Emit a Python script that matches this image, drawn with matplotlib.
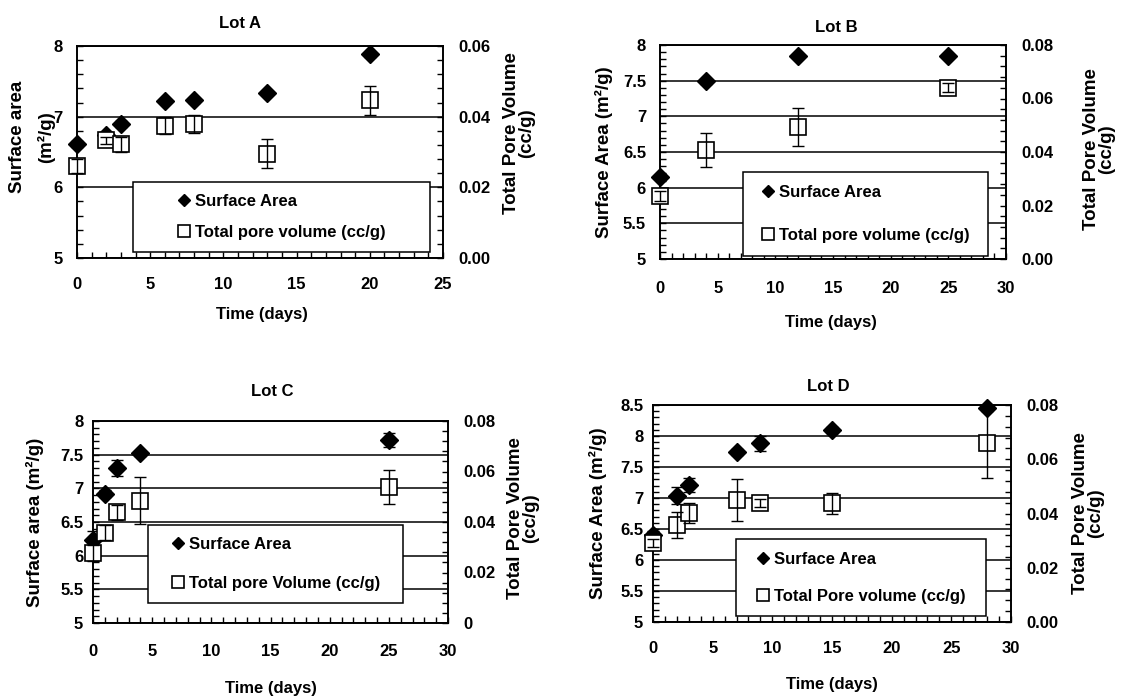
import matplotlib
matplotlib.use("Agg")
import matplotlib.pyplot as plt
from matplotlib.ticker import MultipleLocator
from matplotlib.patches import Rectangle

plt.rcParams["font.family"] = ["Liberation Sans", "DejaVu Sans"]
plt.rcParams["font.weight"] = "bold"
plt.rcParams["axes.labelweight"] = "bold"
plt.rcParams["axes.titleweight"] = "bold"

FIG_W, FIG_H = 1122, 696

# ---------------- data ----------------
lot_a_days = [0, 2, 3, 6, 8, 13, 20]
lot_a_area = [6.61, 6.74, 6.90, 7.22, 7.23, 7.33, 7.88]
lot_a_area_err = [0.04, 0.05, 0.04, 0.03, 0.03, 0.03, 0.04]
lot_a_pore = [0.0260, 0.0333, 0.0322, 0.0375, 0.0380, 0.0295, 0.0446]
lot_a_pore_err = [0.0020, 0.0010, 0.0021, 0.0025, 0.0025, 0.0041, 0.0042]

lot_b_days = [0, 4, 12, 25]
lot_b_area = [6.15, 7.49, 7.85, 7.85]
lot_b_area_err = [0.03, 0.03, 0.03, 0.03]
lot_b_pore = [0.0235, 0.0408, 0.0493, 0.0641]
lot_b_pore_err = [0.0020, 0.0064, 0.0071, 0.0018]

lot_c_days = [0, 1, 2, 4, 25]
lot_c_area = [6.24, 6.92, 7.30, 7.52, 7.72]
lot_c_area_err = [0.12, 0.05, 0.12, 0.04, 0.10]
lot_c_pore = [0.0277, 0.0358, 0.0438, 0.0485, 0.0538]
lot_c_pore_err = [0.0030, 0.0030, 0.0030, 0.0094, 0.0066]

lot_d_days = [0, 2, 3, 7, 9, 15, 28]
lot_d_area = [6.41, 7.04, 7.21, 7.74, 7.88, 8.10, 8.45]
lot_d_area_err = [0.05, 0.14, 0.12, 0.05, 0.12, 0.05, 0.05]
lot_d_pore = [0.0290, 0.0358, 0.0403, 0.0450, 0.0438, 0.0437, 0.0661]
lot_d_pore_err = [0.0015, 0.0047, 0.0037, 0.0079, 0.0015, 0.0039, 0.0129]

x_ticks_25 = ["0", "5", "10", "15", "20", "25"]
x_ticks_30 = ["0", "5", "10", "15", "20", "25", "30"]
area_ticks_a = ["5", "6", "7", "8"]
area_ticks_bc = ["5", "5.5", "6", "6.5", "7", "7.5", "8"]
area_ticks_d = ["5", "5.5", "6", "6.5", "7", "7.5", "8", "8.5"]
pore_ticks_a = ["0.00", "0.02", "0.04", "0.06"]
pore_ticks_bd = ["0.00", "0.02", "0.04", "0.06", "0.08"]
pore_ticks_c = ["0", "0.02", "0.04", "0.06", "0.08"]

fig = plt.figure(figsize=(FIG_W / 100, FIG_H / 100), dpi=100)


def px_rect(left, top, right, bottom):
    return [left / FIG_W, 1 - bottom / FIG_H,
            (right - left) / FIG_W, (bottom - top) / FIG_H]


def to_axes(ax, x, y):
    """Figure pixel position (origin top-left) -> axes fraction."""
    bb = ax.get_position()
    fx, fy = x / FIG_W, 1 - y / FIG_H
    return (fx - bb.x0) / bb.width, (fy - bb.y0) / bb.height


def draw_lot(p):
    ax = fig.add_axes(px_rect(*p["frame"]))
    ax2 = ax.twinx()

    xt = [float(s) for s in p["xticks"]]
    yt = [float(s) for s in p["yticks"]]
    y2t = [float(s) for s in p["y2ticks"]]
    ax.set_xlim(xt[0], xt[-1])
    ax.set_ylim(yt[0], yt[-1])
    ax2.set_ylim(y2t[0], y2t[-1])
    ax.set_xticks(xt, p["xticks"])
    ax.set_yticks(yt, p["yticks"])
    ax2.set_yticks(y2t, p["y2ticks"])
    ax.xaxis.set_minor_locator(MultipleLocator(1))
    ax.yaxis.set_minor_locator(MultipleLocator((yt[1] - yt[0]) / 5))
    ax2.yaxis.set_minor_locator(MultipleLocator((y2t[1] - y2t[0]) / 5))

    for a in (ax, ax2):
        for s in a.spines.values():
            s.set_linewidth(1.2)
    ax.tick_params(which="both", direction="in", length=4, width=1,
                   top=False, right=False, labelsize=12)
    ax.tick_params(axis="x", which="major", pad=p["xpad"])
    ax.tick_params(axis="y", which="major", pad=p["ypad"])
    ax2.tick_params(which="both", direction="in", length=4, width=1,
                    labelsize=12, pad=p["y2pad"])

    ax.grid(axis="y", which="major", color="black", lw=1.1)
    ax.set_axisbelow(True)

    # surface area: filled diamonds
    ax.errorbar(p["days"], p["area"], yerr=p["area_err"], fmt="none",
                ecolor="black", elinewidth=1, capsize=4, capthick=1,
                zorder=3, clip_on=False)
    sa, = ax.plot(p["days"], p["area"], ls="none", marker="D", ms=9,
                  color="black", zorder=4, clip_on=False)
    # pore volume: open squares
    pv, = ax2.plot(p["days"], p["pore"], ls="none", marker="s", ms=11.5,
                   mfc="white", mec="black", mew=1.2, zorder=3, clip_on=False)
    ax2.errorbar(p["days"], p["pore"], yerr=p["pore_err"], fmt="none",
                 ecolor="black", elinewidth=1, capsize=4, capthick=1,
                 zorder=4, clip_on=False)

    # legend box
    l, t, r, b = p["legend_box"]
    x0, y0 = to_axes(ax2, l, b)
    x1, y1 = to_axes(ax2, r, t)
    ax2.add_patch(Rectangle((x0, y0), x1 - x0, y1 - y0, transform=ax2.transAxes,
                            facecolor="white", edgecolor="black", lw=1.1,
                            zorder=10, clip_on=False))
    leg = ax2.legend([sa, pv], p["legend_labels"], loc="center",
                     bbox_to_anchor=((x0 + x1) / 2, (y0 + y1) / 2),
                     bbox_transform=ax2.transAxes, frameon=False, fontsize=12,
                     handlelength=0.8, handletextpad=0.25,
                     labelspacing=p["legend_spacing"], markerscale=0.7,
                     borderpad=0)
    leg.set_zorder(11)

    # texts
    tx, ty = to_axes(ax, *p["title_xy"])
    ax.set_title(p["title"], fontsize=12, x=tx, y=ty, pad=0, va="center")

    ax.set_xlabel("Time (days)", fontsize=12)
    ax.xaxis.set_label_coords(*to_axes(ax, *p["xlabel_xy"]))
    ax.xaxis.label.set_va("center")

    ax.set_ylabel(p["ylabel"], fontsize=13.5, linespacing=p["ylabel_ls"])
    ax.yaxis.set_label_coords(*to_axes(ax, *p["ylabel_xy"]))
    ax.yaxis.label.set_va("center")
    ax.yaxis.label.set_ha("center")

    ax2.set_ylabel(p["y2label"], fontsize=13.5, linespacing=p["y2label_ls"])
    ax2.yaxis.set_label_coords(*to_axes(ax2, *p["y2label_xy"]))
    ax2.yaxis.label.set_va("center")
    ax2.yaxis.label.set_ha("center")


draw_lot(dict(
    frame=(77, 46, 443, 258), title="Lot A", title_xy=(240, 23),
    days=lot_a_days, area=lot_a_area, area_err=lot_a_area_err,
    pore=lot_a_pore, pore_err=lot_a_pore_err,
    xticks=x_ticks_25, yticks=area_ticks_a, y2ticks=pore_ticks_a,
    xpad=13.5, ypad=10.5, y2pad=11,
    ylabel="Surface area\n(m²/g)", ylabel_xy=(32, 137), ylabel_ls=1.75,
    y2label="Total Pore Volume\n(cc/g)", y2label_xy=(519, 133), y2label_ls=0.8,
    xlabel_xy=(262, 315),
    legend_box=(133, 182, 430, 252), legend_spacing=0.96,
    legend_labels=["Surface Area", "Total pore volume (cc/g)"],
))

draw_lot(dict(
    frame=(660, 45, 1006, 259), title="Lot B", title_xy=(836, 28),
    days=lot_b_days, area=lot_b_area, area_err=lot_b_area_err,
    pore=lot_b_pore, pore_err=lot_b_pore_err,
    xticks=x_ticks_30, yticks=area_ticks_bc, y2ticks=pore_ticks_bd,
    xpad=15.5, ypad=10, y2pad=11,
    ylabel="Surface Area (m²/g)", ylabel_xy=(604, 152), ylabel_ls=1.0,
    y2label="Total Pore Volume\n(cc/g)", y2label_xy=(1099, 149), y2label_ls=0.85,
    xlabel_xy=(831, 322),
    legend_box=(743, 172, 988, 256), legend_spacing=1.68,
    legend_labels=["Surface Area", "Total pore volume (cc/g)"],
))

draw_lot(dict(
    frame=(93, 421, 448, 623), title="Lot C", title_xy=(272, 392),
    days=lot_c_days, area=lot_c_area, area_err=lot_c_area_err,
    pore=lot_c_pore, pore_err=lot_c_pore_err,
    xticks=x_ticks_30, yticks=area_ticks_bc, y2ticks=pore_ticks_c,
    xpad=15, ypad=7, y2pad=11,
    ylabel="Surface area (m²/g)", ylabel_xy=(35, 522), ylabel_ls=1.0,
    y2label="Total Pore Volume\n(cc/g)", y2label_xy=(523, 518), y2label_ls=0.85,
    xlabel_xy=(271, 688),
    legend_box=(148, 525, 403, 603), legend_spacing=1.44,
    legend_labels=["Surface Area", "Total pore Volume (cc/g)"],
))

draw_lot(dict(
    frame=(653, 405, 1011, 622), title="Lot D", title_xy=(828, 386),
    days=lot_d_days, area=lot_d_area, area_err=lot_d_area_err,
    pore=lot_d_pore, pore_err=lot_d_pore_err,
    xticks=x_ticks_30, yticks=area_ticks_d, y2ticks=pore_ticks_bd,
    xpad=14, ypad=7, y2pad=11,
    ylabel="Surface Area (m²/g)", ylabel_xy=(598, 513), ylabel_ls=1.0,
    y2label="Total Pore Volume\n(cc/g)", y2label_xy=(1088, 513), y2label_ls=0.85,
    xlabel_xy=(832, 685),
    legend_box=(736, 539, 986, 616), legend_spacing=1.32,
    legend_labels=["Surface Area", "Total Pore volume (cc/g)"],
))

fig.savefig("out.png", dpi=100, facecolor="white")
